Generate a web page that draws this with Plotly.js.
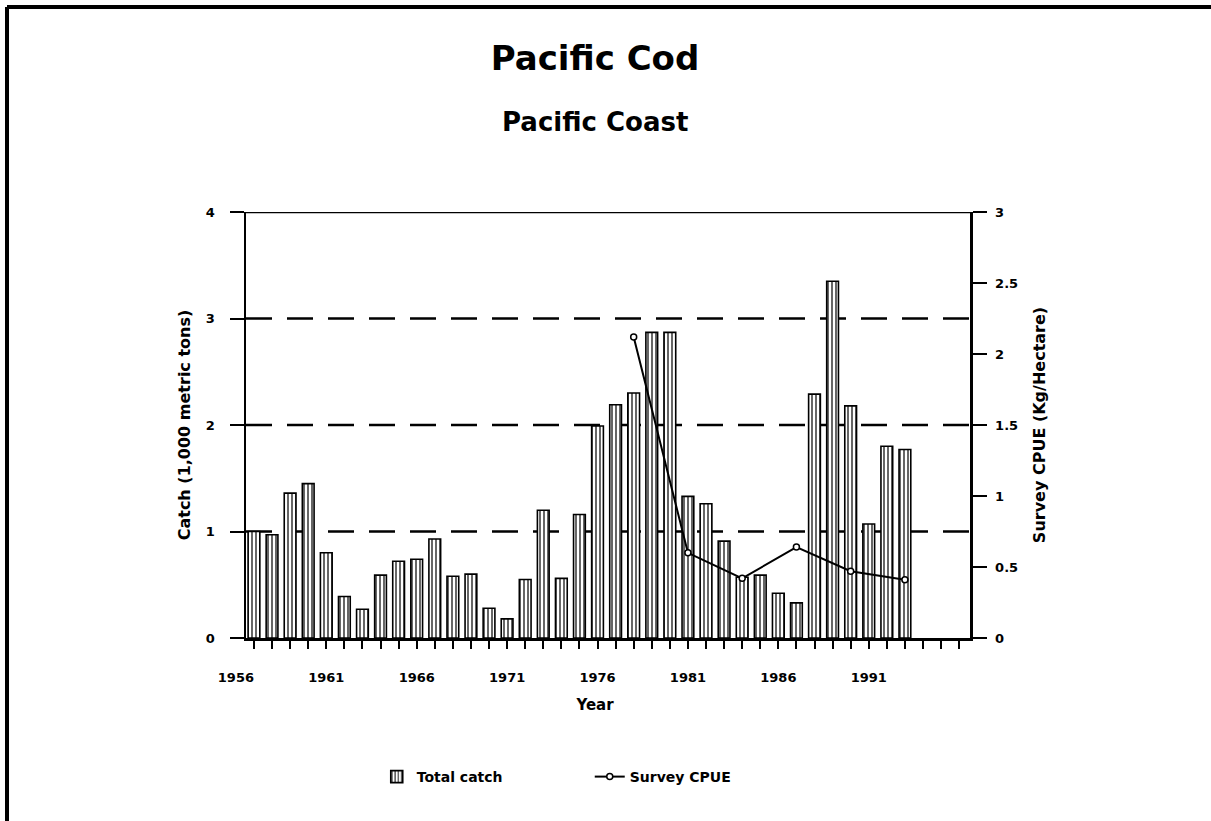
<!DOCTYPE html>
<html>
<head>
<meta charset="utf-8">
<script src="https://cdn.plot.ly/plotly-3.0.1.min.js"></script>
<style>html,body{margin:0;padding:0;background:#fff;}#chart{width:1211px;height:821px;}</style>
</head>
<body>
<div id="chart"></div>
<script>
// ---- data ----
const years = [1957,1958,1959,1960,1961,1962,1963,1964,1965,1966,1967,1968,1969,1970,1971,1972,1973,1974,1975,1976,1977,1978,1979,1980,1981,1982,1983,1984,1985,1986,1987,1988,1989,1990,1991,1992,1993];
const totalCatch = [1.00,0.97,1.36,1.45,0.80,0.39,0.27,0.59,0.72,0.74,0.93,0.58,0.60,0.28,0.18,0.55,1.20,0.56,1.16,1.99,2.19,2.30,2.87,2.87,1.33,1.26,0.91,0.57,0.59,0.42,0.33,2.29,3.35,2.18,1.07,1.80,1.77];
const cpueYears = [1978,1981,1984,1987,1990,1993];
const surveyCPUE = [2.12,0.60,0.42,0.64,0.47,0.41];
const yearTickVals = [1956,1961,1966,1971,1976,1981,1986,1991];
const yearTickText = ["1956","1961","1966","1971","1976","1981","1986","1991"];
const catchTicks = [0,1,2,3,4];
const catchGrid = [1,2,3];
const cpueTicks = [0,0.5,1,1.5,2,2.5,3];

const F = "'DejaVu Sans', Lato, sans-serif";
const ink = "#000";

const traces = [
  {
    type: "bar", name: "Total catch", x: years, y: totalCatch,
    xaxis: "x", yaxis: "y", width: 0.65,
    marker: {color: "#fff", line: {color: ink, width: 1.6},
             pattern: {shape: "|", size: 4, solidity: 0.3, fgcolor: ink, bgcolor: "#fff"}},
    hoverinfo: "x+y"
  },
  {
    type: "scatter", mode: "lines+markers", name: "Survey CPUE",
    x: cpueYears, y: surveyCPUE, xaxis: "x", yaxis: "y2",
    line: {color: ink, width: 2},
    marker: {symbol: "circle", size: 6, color: "#fff", line: {color: ink, width: 1.5}}
  },
  {
    type: "scatter", mode: "markers", x: [], y: [], xaxis: "x2", yaxis: "y",
    showlegend: false, hoverinfo: "skip"
  }
];

// dashed reference lines at the left-axis gridline values (drawn under the bars)
const gridShapes = catchGrid.map(v => ({
  type: "line", layer: "below", xref: "x domain", x0: 0, x1: 1, yref: "y", y0: v, y1: v,
  line: {color: ink, width: 2.5, dash: "26px,15px"}
}));

const layout = {
  width: 1211, height: 821,
  margin: {l: 220, r: 241, t: 212, b: 183, pad: 0},
  paper_bgcolor: "#fff", plot_bgcolor: "rgba(0,0,0,0)",
  font: {family: F, color: ink, size: 13, weight: "bold"},
  title: {text: "Pacific Cod", font: {family: F, size: 34, weight: "bold", color: ink},
          x: 0.5, xref: "paper", xanchor: "center", y: 1 - 58/821, yref: "container", yanchor: "middle"},
  annotations: [
    {text: "Pacific Coast", xref: "paper", yref: "paper", x: 0.5, y: (638-122)/426,
     xanchor: "center", yanchor: "middle", showarrow: false,
     font: {family: F, size: 26, weight: "bold", color: ink}}
  ],
  showlegend: true,
  legend: {orientation: "h", x: 0.209, xanchor: "left", y: (638-777)/426, yanchor: "middle",
           entrywidth: 168, entrywidthmode: "pixels",
           font: {family: F, size: 14, weight: "bold", color: ink}, bgcolor: "rgba(0,0,0,0)"},
  xaxis: {
    domain: [26/750, 1], anchor: "y", range: [1956.56, 1996.6],
    tickmode: "linear", tick0: 1957, dtick: 1, ticks: "outside", ticklen: 8, tickwidth: 2, tickcolor: ink,
    showticklabels: false, showline: true, linewidth: 2.5, linecolor: ink,
    showgrid: false, zeroline: false
  },
  xaxis2: {
    domain: [0, 1], anchor: "y", range: [1955.12, 1996.6],
    tickmode: "array", tickvals: yearTickVals, ticktext: yearTickText,
    ticks: "", showline: false, showgrid: false, zeroline: false,
    ticklabelstandoff: 30,
    tickfont: {family: F, size: 13, weight: "bold", color: ink},
    title: {text: "Year", font: {family: F, size: 15, weight: "bold", color: ink}, standoff: 15}
  },
  yaxis: {
    domain: [0, 1], anchor: "x", range: [0, 4],
    tickmode: "array", tickvals: catchTicks,
    ticks: "outside", ticklen: 14, tickwidth: 2, tickcolor: ink,
    showline: true, linewidth: 2.5, linecolor: ink,
    showgrid: false, zeroline: false, ticklabelstandoff: 12,
    tickfont: {family: F, size: 13, weight: "bold", color: ink},
    title: {text: "Catch (1,000 metric tons)", font: {family: F, size: 16, weight: "bold", color: ink}, standoff: 12}
  },
  yaxis2: {
    overlaying: "y", side: "right", anchor: "x", range: [0, 3],
    tickmode: "array", tickvals: cpueTicks,
    ticks: "outside", ticklen: 14, tickwidth: 2, tickcolor: ink,
    showline: true, linewidth: 2.5, linecolor: ink,
    showgrid: false, zeroline: false, ticklabelstandoff: 6,
    tickfont: {family: F, size: 13, weight: "bold", color: ink},
    title: {text: "Survey CPUE (Kg/Hectare)", font: {family: F, size: 16, weight: "bold", color: ink}, standoff: 17}
  },
  shapes: gridShapes.concat([
    {type: "line", xref: "x domain", x0: 0, x1: 1, yref: "y", y0: 4, y1: 4, line: {color: ink, width: 2.5}},
    {type: "line", xref: "paper", x0: -0.284, x1: -0.284, yref: "paper", y0: 1.481, y1: -0.43, line: {color: ink, width: 4}},
    {type: "line", xref: "paper", x0: -0.284, x1: 1.33, yref: "paper", y0: 1.481, y1: 1.481, line: {color: ink, width: 4}}
  ])
};

Plotly.newPlot("chart", traces, layout, {displayModeBar: false, staticPlot: true});
</script>
</body>
</html>
